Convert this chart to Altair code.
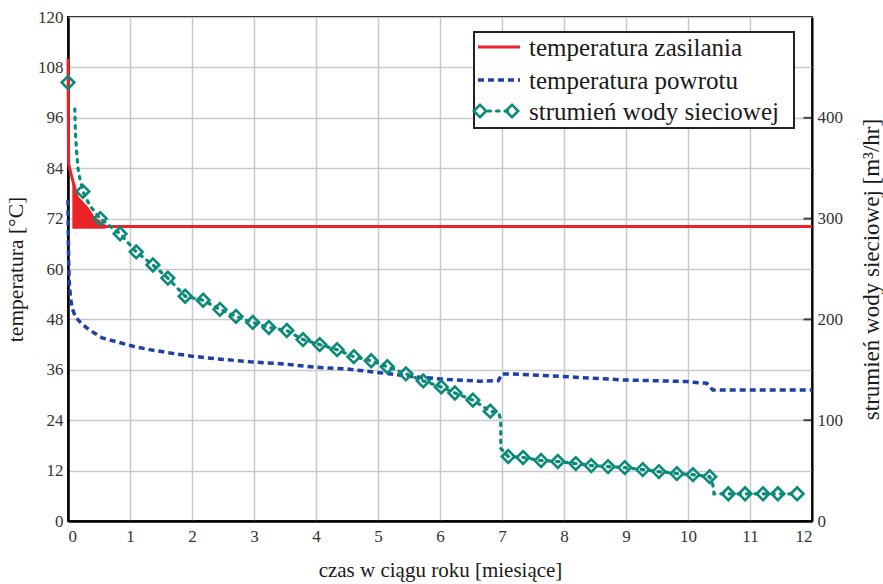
import altair as alt
import pandas as pd

# ---------------- data ----------------
month_ticks = list(range(0, 13))
temp_ticks = list(range(0, 121, 12))
flow_ticks = [0, 100, 200, 300, 400]

names = ["temperatura zasilania", "temperatura powrotu", "strumień wody sieciowej"]

# supply temperature [°C]
sup_t = [0, 0.01, 0.06, 0.15, 0.31, 0.40, 0.52, 0.60, 12]
sup_v = [110, 85, 82, 77, 74.5, 72.4, 71, 70.1, 70.1]

# band of daily oscillation of supply temperature (upper envelope / lower bound)
band_t = [0.07, 0.10, 0.15, 0.25, 0.31, 0.40, 0.52, 0.60]
band_hi = [82, 79, 77, 75.5, 74.5, 72.4, 71, 70.1]
band_lo = [69.6, 69.6, 69.6, 69.6, 69.6, 69.6, 69.6, 69.6]

# return temperature [°C]
ret_t = [0, 0.005, 0.01, 0.02, 0.04, 0.07, 0.12, 0.2, 0.3, 0.42, 0.55, 0.8, 1.05,
         1.32, 1.6, 1.97, 2.4, 2.94, 3.47, 4.0, 4.5, 5.03, 5.56, 6.1, 6.65, 6.94,
         7.0, 7.18, 7.98, 8.95, 9.98, 10.19, 10.3, 10.4, 12]
ret_v = [76.5, 68, 62, 57, 53, 50.5, 48.6, 47.3, 46, 44.8, 43.6, 42.6, 41.6,
         40.8, 40.1, 39.3, 38.6, 37.9, 37.4, 36.6, 36.2, 35.3, 34.4, 33.7, 33.3, 33.4,
         35, 35.0, 34.4, 33.6, 33.2, 32.9, 32.8, 31.2, 31.2]

# network water flow [m3/hr] - measured trace
flow_t = [0.11, 0.12, 0.14, 0.17, 0.21, 0.24, 0.35, 0.52, 0.84, 1.10, 1.37, 1.61,
          1.89, 2.18, 2.45, 2.71, 2.98, 3.24, 3.53, 3.79, 4.06, 4.34, 4.61, 4.89,
          5.15, 5.45, 5.73, 6.02, 6.24, 6.53, 6.81, 6.95, 6.98, 6.98, 7.10, 7.34,
          7.63, 7.90, 8.19, 8.44, 8.71, 8.98, 9.27, 9.53, 9.82, 10.08, 10.35, 10.40,
          10.42, 10.65, 10.92, 11.21, 11.45, 11.76]
flow_v = [409, 385, 365, 345, 335, 327, 313, 300, 285, 267, 254, 241,
          223, 219, 210, 203, 197, 192, 189, 180, 175, 170, 163, 159,
          153, 146, 139, 133, 127, 120, 109, 107, 100, 72, 64, 63,
          60, 59, 57, 55, 54, 53, 51, 49, 47, 46, 44, 36,
          27, 27, 27, 27, 27, 27]

# flow markers (diamonds)
mark_t = [0, 0.24, 0.52, 0.84, 1.10, 1.37, 1.61, 1.89, 2.18, 2.45, 2.71, 2.98,
          3.24, 3.53, 3.79, 4.06, 4.34, 4.61, 4.89, 5.15, 5.45, 5.73, 6.02, 6.24,
          6.53, 6.81, 7.10, 7.34, 7.63, 7.90, 8.19, 8.44, 8.71, 8.98, 9.27, 9.53,
          9.82, 10.08, 10.35, 10.65, 10.92, 11.21, 11.45, 11.76]
mark_v = [435, 327, 300, 285, 267, 254, 241, 223, 219, 210, 203, 197,
          192, 189, 180, 175, 170, 163, 159, 153, 146, 139, 133, 127,
          120, 109, 64, 63, 60, 59, 57, 55, 54, 53, 51, 49,
          47, 46, 44, 27, 27, 27, 27, 27]

# ---------------- styling ----------------
RED = "#ec2229"
BLUE = "#1e3fa6"
GREEN = "#0a8a7a"
FONT = "'Liberation Serif', 'Times New Roman', Times, serif"
W, H = 744, 504

sup_df = pd.DataFrame({"t": sup_t, "v": sup_v})
band_df = pd.DataFrame({"t": band_t, "hi": band_hi, "lo": band_lo})
ret_df = pd.DataFrame({"t": ret_t, "v": ret_v})
flow_df = pd.DataFrame({"t": flow_t, "f": flow_v})
mark_df = pd.DataFrame({"t": mark_t, "f": mark_v})
tick_df = pd.DataFrame({"f": flow_ticks})
one = pd.DataFrame({"a": [0]})

x_enc = alt.X("t:Q", scale=alt.Scale(domain=[0, 12], nice=False, zero=False),
              axis=alt.Axis(values=month_ticks, format="d", title="czas w ciągu roku [miesiące]",
                            grid=True, ticks=False, labelPadding=7, titlePadding=15,
                            titleFontSize=21))

yl_scale = alt.Scale(domain=[0, 120], nice=False)
yl_axis = alt.Axis(values=temp_ticks, format="d", title="temperatura [°C]", grid=True,
                   ticks=False, labelPadding=5, titlePadding=10, titleFontSize=21.5)
yr_scale = alt.Scale(domain=[0, 500], nice=False)
yr_axis = alt.Axis(orient="right", values=flow_ticks, format="d",
                   title="strumień wody sieciowej [m³/hr]", titleAngle=270,
                   grid=False, ticks=False, labelPadding=5, titlePadding=41,
                   titleFontSize=23, domainWidth=2)

band = alt.Chart(band_df).mark_area(color=RED, opacity=1).encode(
    x=x_enc, y=alt.Y("hi:Q", scale=yl_scale, axis=yl_axis), y2="lo:Q")
sup = alt.Chart(sup_df).mark_line(color=RED, strokeWidth=3).encode(
    x=x_enc, y=alt.Y("v:Q", scale=yl_scale, axis=yl_axis))
ret = alt.Chart(ret_df).mark_line(color=BLUE, strokeWidth=3.5, strokeDash=[6, 4]).encode(
    x=x_enc, y=alt.Y("v:Q", scale=yl_scale, axis=yl_axis))
left = alt.layer(band, sup, ret)

flow_line = alt.Chart(flow_df).mark_line(color=GREEN, strokeWidth=3.2, strokeDash=[2.5, 6],
                                         strokeCap="round").encode(
    x=x_enc, y=alt.Y("f:Q", scale=yr_scale, axis=yr_axis))
flow_pts = alt.Chart(mark_df).mark_point(shape="diamond", filled=False, color=GREEN,
                                         strokeWidth=2.6, size=160, opacity=1).encode(
    x=x_enc, y=alt.Y("f:Q", scale=yr_scale, axis=yr_axis))
rticks = alt.Chart(tick_df).mark_tick(color="black", thickness=2, size=9,
                                      orient="horizontal").encode(
    x=alt.value(W - 4), y=alt.Y("f:Q", scale=yr_scale, axis=yr_axis))
right = alt.layer(flow_line, flow_pts, rticks)

# ---------------- legend ----------------
LX0, LX1, LY0, LY1 = 406, 726, 15, 111
rows = [30, 63, 94]
box = alt.Chart(one).mark_rect(fill="white", stroke="#222", strokeWidth=2).encode(
    x=alt.value(LX0), x2=alt.value(LX1), y=alt.value(LY0), y2=alt.value(LY1))
leg_red = alt.Chart(one).mark_rule(color=RED, strokeWidth=3).encode(
    x=alt.value(410), x2=alt.value(452), y=alt.value(rows[0]))
leg_blue = alt.Chart(one).mark_rule(color=BLUE, strokeWidth=3.5, strokeDash=[6, 4]).encode(
    x=alt.value(410), x2=alt.value(452), y=alt.value(rows[1]))
leg_green = alt.Chart(one).mark_rule(color=GREEN, strokeWidth=3.2, strokeDash=[2.5, 6],
                                     strokeCap="round").encode(
    x=alt.value(420), x2=alt.value(440), y=alt.value(rows[2]))
leg_d1 = alt.Chart(one).mark_point(shape="diamond", filled=False, color=GREEN,
                                   strokeWidth=2.6, size=150, opacity=1).encode(
    x=alt.value(412), y=alt.value(rows[2]))
leg_d2 = alt.Chart(one).mark_point(shape="diamond", filled=False, color=GREEN,
                                   strokeWidth=2.6, size=150, opacity=1).encode(
    x=alt.value(444), y=alt.value(rows[2]))
leg_txt = [alt.Chart(one).mark_text(align="left", baseline="middle", font=FONT,
                                    fontSize=25, color="#1a1a1a").encode(
    x=alt.value(461), y=alt.value(rows[i] + 1), text=alt.value(names[i])) for i in range(3)]

chart = alt.layer(left, right, box, leg_red, leg_blue, leg_green, leg_d1, leg_d2, *leg_txt
                  ).resolve_scale(y="independent").properties(
    width=W, height=H,
    autosize=alt.AutoSizeParams(type="none"),
    padding={"left": 68, "top": 17, "right": 71, "bottom": 63},
    background="white",
).configure_view(stroke="black", strokeWidth=2).configure_axis(
    labelFont=FONT, labelFontSize=17, labelColor="#333333",
    titleFont=FONT, titleFontSize=22, titleFontWeight="normal", titleColor="#1a1a1a",
    gridColor="#c9c9c9", gridWidth=1.5, domainColor="black", domainWidth=2.5,
)

chart.save("out.html", embed_options={"renderer": "svg", "actions": False})
